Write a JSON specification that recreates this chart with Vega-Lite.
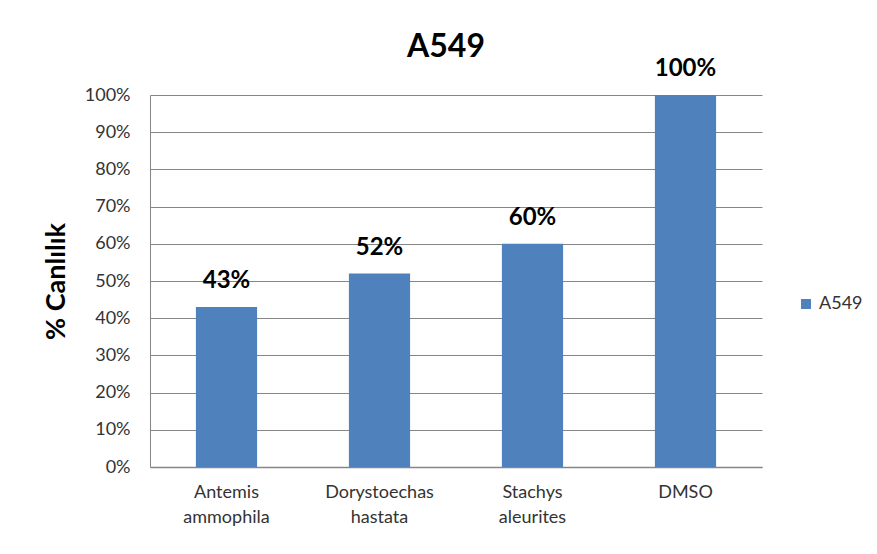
{
  "$schema": "https://vega.github.io/schema/vega-lite/v6.json",
  "width": 612,
  "height": 372,
  "autosize": {"type": "none"},
  "padding": {"left": 150, "top": 95, "right": 115, "bottom": 87},
  "background": "white",
  "config": {"view": {"stroke": null}, "font": "Lato"},
  "title": {"text": "A549", "fontSize": 32, "font": "Lato", "fontWeight": "bold", "color": "#000000", "anchor": "middle", "offset": -7, "dx": -10},
  "data": {
    "values": [
      {"name": "Antemis ammophila", "value": 0.43, "series": "A549"},
      {"name": "Dorystoechas hastata", "value": 0.52, "series": "A549"},
      {"name": "Stachys aleurites", "value": 0.60, "series": "A549"},
      {"name": "DMSO", "value": 1.00, "series": "A549"}
    ]
  },
  "encoding": {
    "x": {
      "field": "name", "type": "nominal", "sort": null,
      "scale": {"paddingInner": 0.6, "paddingOuter": 0.3},
      "axis": {
        "title": null, "labelAngle": 0, "labelExpr": "split(datum.label, ' ')",
        "labelFontSize": 18, "labelFont": "Lato", "labelColor": "#333333", "labelLineHeight": 25,
        "labelPadding": 16, "ticks": false, "domain": true, "domainColor": "#868686", "domainWidth": 1.5
      }
    },
    "y": {
      "field": "value", "type": "quantitative",
      "scale": {"domain": [0, 1], "nice": false},
      "axis": {
        "values": [0, 0.1, 0.2, 0.3, 0.4, 0.5, 0.6, 0.7, 0.8, 0.9, 1.0],
        "format": ".0%", "grid": true, "gridColor": "#868686", "gridWidth": 1,
        "domain": true, "domainColor": "#868686", "ticks": false,
        "labelPadding": 20, "labelFontSize": 18, "labelFont": "Lato", "labelColor": "#333333",
        "title": "% Canlılık", "titleFontSize": 27, "titleFont": "Lato", "titleFontWeight": "bold",
        "titleColor": "#000000", "titlePadding": 14
      }
    }
  },
  "layer": [
    {
      "mark": {"type": "bar"},
      "encoding": {
        "color": {
          "field": "series", "type": "nominal",
          "scale": {"range": ["#4F81BD"]},
          "legend": {
            "orient": "none", "legendX": 647, "legendY": 200, "title": null,
            "symbolType": "square", "symbolSize": 100, "symbolStrokeWidth": 0,
            "labelFontSize": 18, "labelFont": "Lato", "labelColor": "#333333"
          }
        }
      }
    },
    {
      "mark": {"type": "text", "dy": -19, "baseline": "alphabetic", "fontSize": 24, "fontWeight": "bold", "font": "Lato", "color": "#000000"},
      "encoding": {
        "text": {"field": "value", "type": "quantitative", "format": ".0%"}
      }
    }
  ]
}
